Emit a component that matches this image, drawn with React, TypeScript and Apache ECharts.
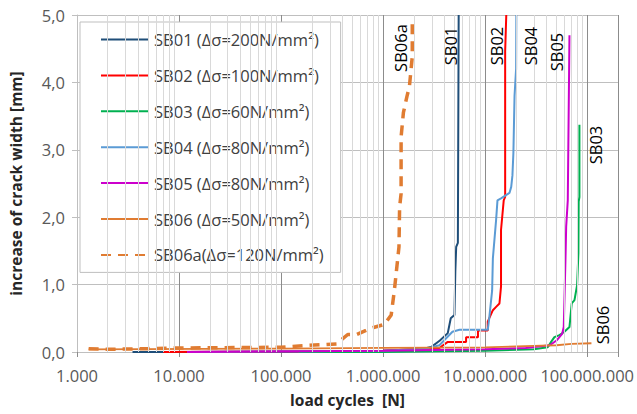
import React, { useEffect, useRef } from "react";
import * as echarts from "echarts";

// ---- data: [load cycles, increase of crack width (mm)] ----
const sb01: [number, number][] = [
  [3500, 0.0], [1e5, 0.0], [1e6, 0.02], [2.5e6, 0.05], [3.0e6, 0.08], [3.6e6, 0.17],
  [4.3e6, 0.28], [4.6e6, 0.5], [5.0e6, 0.55], [5.1e6, 1.2], [5.2e6, 1.56], [5.4e6, 1.62], [5.5e6, 5.0],
];
const sb02: [number, number][] = [
  [7000, 0.0], [1e6, 0.02], [3.56e6, 0.06], [4.3e6, 0.15], [6.5e6, 0.15], [6.5e6, 0.22],
  [8.5e6, 0.22], [8.5e6, 0.32], [1.06e7, 0.32], [1.06e7, 0.45], [1.19e7, 0.62], [1.28e7, 0.67],
  [1.38e7, 0.72], [1.43e7, 0.97], [1.43e7, 1.81], [1.52e7, 2.25], [1.57e7, 2.3], [1.57e7, 4.46], [1.61e7, 5.0],
];
const sb03: [number, number][] = [
  [1.5e5, 0.0], [1e6, 0.0], [1e7, 0.02], [3e7, 0.04], [4.1e7, 0.07], [4.43e7, 0.15], [4.77e7, 0.22],
  [5.34e7, 0.25], [5.98e7, 0.3], [6.7e7, 0.37], [7.05e7, 0.72], [7.5e7, 0.77], [7.96e7, 0.99],
  [8.2e7, 1.47], [8.25e7, 2.23], [8.39e7, 2.3], [8.39e7, 3.37],
];
const sb04: [number, number][] = [
  [1.2e4, 0.0], [1e6, 0.02], [2.64e6, 0.05], [3.56e6, 0.1], [4.78e6, 0.3], [5.6e6, 0.33],
  [1.06e7, 0.33], [1.09e7, 0.47], [1.17e7, 0.91], [1.19e7, 1.39], [1.28e7, 1.96], [1.32e7, 2.25],
  [1.43e7, 2.28], [1.73e7, 2.36], [1.8e7, 2.45], [1.85e7, 2.62], [1.89e7, 2.95], [1.94e7, 3.8],
  [2.01e7, 4.2], [2.02e7, 5.0],
];
const sb05: [number, number][] = [
  [1.2e4, 0.0], [1e6, 0.02], [1e7, 0.04], [2.5e7, 0.06], [4.3e7, 0.1], [5.0e7, 0.17], [5.68e7, 0.27],
  [5.89e7, 0.37], [6.12e7, 1.36], [6.22e7, 1.86], [6.45e7, 2.25], [6.7e7, 4.7],
];
const sb06: [number, number][] = [
  [1.3e3, 0.04], [1e5, 0.05], [1e6, 0.06], [1e7, 0.07], [3e7, 0.09], [5e7, 0.1], [7e7, 0.12], [1.1e8, 0.13],
];
const sb06a: [number, number][] = [
  [1.3e3, 0.05], [2e3, 0.04], [5e3, 0.05], [1e4, 0.06], [1e5, 0.07], [1.5e5, 0.09], [3.5e5, 0.12],
  [4.5e5, 0.26], [5.5e5, 0.26], [6.8e5, 0.32], [7.5e5, 0.35], [1.03e6, 0.41], [1.2e6, 0.55],
  [1.29e6, 0.92], [1.43e6, 1.56], [1.45e6, 2.15], [1.5e6, 2.35], [1.5e6, 3.19], [1.58e6, 3.55],
  [1.71e6, 3.79], [1.81e6, 3.94], [1.93e6, 4.38], [1.93e6, 4.88],
];

const seriesNames = [
  "SB01 (Δσ=200N/mm²)",
  "SB02 (Δσ=100N/mm²)",
  "SB03 (Δσ=60N/mm²)",
  "SB04 (Δσ=80N/mm²)",
  "SB05 (Δσ=80N/mm²)",
  "SB06 (Δσ=50N/mm²)",
  "SB06a(Δσ=120N/mm²)",
];
const seriesData = [sb01, sb02, sb03, sb04, sb05, sb06, sb06a];
const seriesColors = ["#1F4E79", "#FF0000", "#00B050", "#5B9BD5", "#CC00CC", "#E07C32", "#E07C32"];

// in-plot annotations: [text, x px, y px]
const annotations: [string, number, number][] = [
  ["SB06a", 400, 48],
  ["SB01", 450, 46],
  ["SB02", 496, 46],
  ["SB04", 530, 46],
  ["SB05", 556, 52],
  ["SB03", 595, 145],
  ["SB06", 602, 325],
];

const xMin = 1000;
const xMax = 2e8;

const fmtThousands = (v: number) =>
  Math.round(v).toString().replace(/\B(?=(\d{3})+(?!\d))/g, ".");

const FONT = "'Open Sans', 'Noto Sans', sans-serif";

export default function App() {
  const ref = useRef<HTMLDivElement>(null);
  useEffect(() => {
    document.body.style.margin = "0";
    if (!ref.current) return;
    const chart = echarts.init(ref.current, undefined, { renderer: "svg" });

    const minorLines: { xAxis: number }[] = [];
    for (let k = 3; k <= 8; k++) {
      for (let m = 2; m <= 9; m++) {
        const v = m * Math.pow(10, k);
        if (v < xMax) minorLines.push({ xAxis: v });
      }
    }

    const series: any[] = seriesData.map((d, i) => ({
      name: seriesNames[i],
      type: "line",
      data: d,
      showSymbol: false,
      symbol: "none",
      z: 3,
      lineStyle:
        i === 6
          ? { color: seriesColors[i], width: 3.5, type: [10, 7] }
          : { color: seriesColors[i], width: i === 5 ? 1.8 : 2 },
      itemStyle: { color: seriesColors[i] },
    }));
    series.push({
      name: "minor",
      type: "line",
      data: [[xMin, 0]],
      symbol: "none",
      lineStyle: { opacity: 0 },
      z: 1,
      silent: true,
      markLine: {
        silent: true,
        symbol: "none",
        label: { show: false },
        lineStyle: { color: "#D9D9D9", width: 1, type: "solid" },
        data: minorLines,
      },
    });

    chart.setOption({
      animation: false,
      textStyle: { fontFamily: FONT },
      grid: { left: 77, right: 19, top: 15, bottom: 62 },
      legend: {
        data: seriesNames,
        orient: "vertical",
        left: 80,
        top: 22,
        padding: [9, 17, 9, 20],
        itemWidth: 48,
        itemHeight: 14,
        itemGap: 18.9,
        backgroundColor: "#FFFFFF",
        borderColor: "#BFBFBF",
        borderWidth: 1,
        borderRadius: 0,
        itemStyle: { opacity: 0 },
        textStyle: { fontFamily: FONT, fontSize: 16.5, color: "#404040" },
        selectedMode: false,
      },
      xAxis: {
        type: "log",
        logBase: 10,
        min: xMin,
        max: xMax,
        name: "load cycles  [N]",
        nameLocation: "middle",
        nameGap: 40,
        nameTextStyle: { fontFamily: FONT, fontSize: 15.5, fontWeight: "bold", color: "#262626" },
        axisLine: { show: true, lineStyle: { color: "#BFBFBF" } },
        axisTick: { show: true, inside: false, length: 5, lineStyle: { color: "#8C8C8C" } },
        axisLabel: {
          fontFamily: FONT,
          fontSize: 16.5,
          color: "#595959",
          margin: 15,
          formatter: (v: number) => {
            const l = Math.log10(v);
            return Math.abs(l - Math.round(l)) < 1e-6 ? fmtThousands(v) : "";
          },
        },
        splitLine: { show: true, lineStyle: { color: "#8C8C8C", width: 1 } },
      },
      yAxis: {
        type: "value",
        min: 0,
        max: 5,
        interval: 1,
        name: "increase of crack width [mm]",
        nameLocation: "middle",
        nameGap: 53,
        nameRotate: 90,
        nameTextStyle: { fontFamily: FONT, fontSize: 15.5, fontWeight: "bold", color: "#262626" },
        axisLine: { show: true, lineStyle: { color: "#BFBFBF" } },
        axisTick: { show: true, inside: false, length: 5, lineStyle: { color: "#BFBFBF" } },
        axisLabel: {
          fontFamily: FONT,
          fontSize: 16.5,
          color: "#595959",
          margin: 12,
          formatter: (v: number) => v.toFixed(1).replace(".", ","),
        },
        splitLine: { show: true, lineStyle: { color: "#BFBFBF", width: 1 } },
      },
      graphic: annotations.map(([t, x, y]) => ({
        type: "text",
        x,
        y,
        rotation: Math.PI / 2,
        z: 10,
        style: {
          text: t,
          fontFamily: FONT,
          fontSize: 16.5,
          fill: "#000000",
          align: "center",
          verticalAlign: "middle",
        },
      })),
      series,
    });
    return () => chart.dispose();
  }, []);
  return <div ref={ref} style={{ width: 637, height: 414 }} />;
}
